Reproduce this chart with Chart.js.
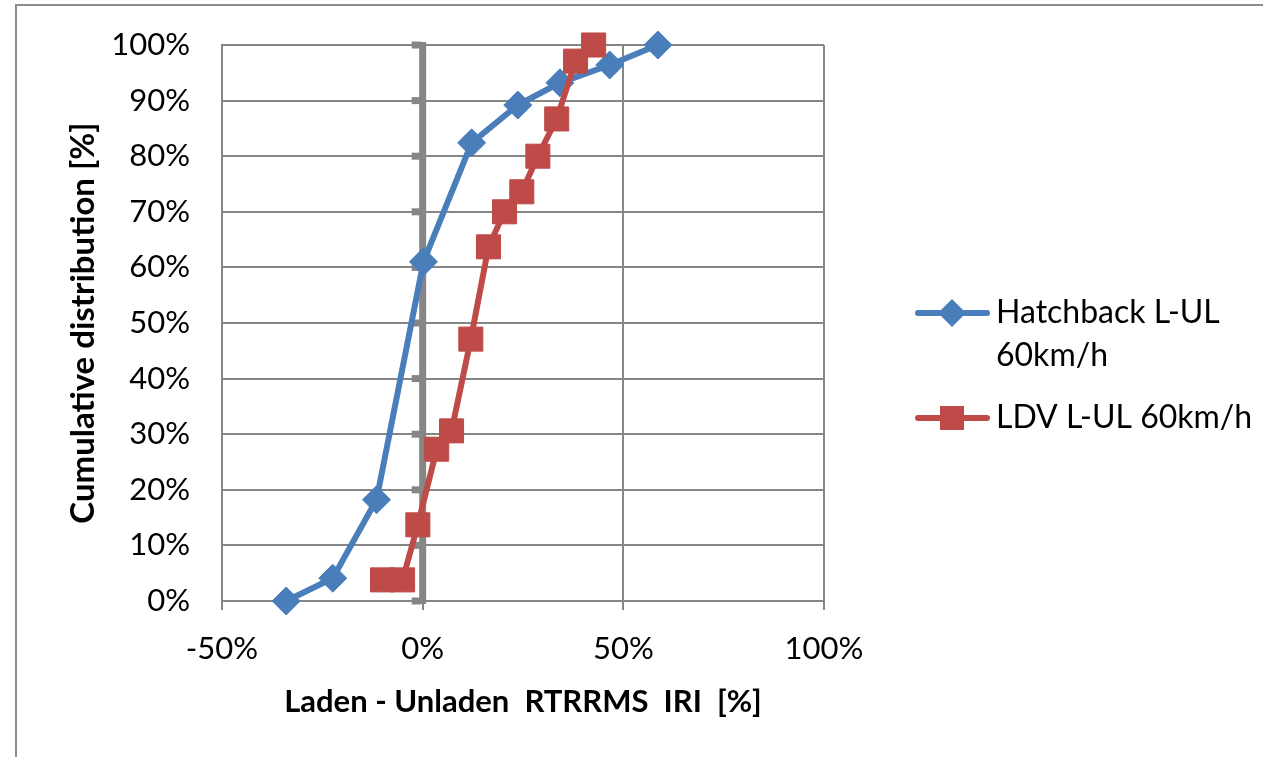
<!DOCTYPE html>
<html>
<head>
<meta charset="utf-8">
<script src="https://cdn.jsdelivr.net/npm/chart.js@4.4.1/dist/chart.umd.min.js"></script>
<style>
html,body{margin:0;padding:0;background:#fff;}
#wrap{width:1263px;height:757px;position:relative;}
</style>
</head>
<body>
<div id="wrap"><canvas id="c" width="1263" height="757"></canvas></div>
<script>
// ---- data ----
const hatchX = [-34, -22.4, -11.5, 0.2, 12.2, 23.7, 34.2, 46.6, 58.6];
const hatchY = [0, 4.1, 18.2, 61, 82.4, 89.2, 93.2, 96.4, 100];
const ldvX = [-10, -5, -1.2, 3.5, 7.2, 12, 16.4, 20.4, 24.7, 28.7, 33.4, 38.1, 42.6];
const ldvY = [3.8, 3.8, 13.7, 27.3, 30.6, 47.1, 63.7, 70, 73.6, 80, 86.7, 97.1, 100];
const hatchLabel = ['Hatchback L-UL', '60km/h'];
const ldvLabel = ['LDV L-UL 60km/h'];
const xTitle = 'Laden - Unladen  RTRRMS  IRI  [%]';
const yTitle = 'Cumulative distribution [%]';
const xTicks = [-50, 0, 50, 100];
const yTicks = [0, 10, 20, 30, 40, 50, 60, 70, 80, 90, 100];

const BLUE = '#4A7EBB';
const RED = '#BE4B48';
const GRID = '#868686';
const FONT = 'Lato';

function pts(xs, ys){ return xs.map((x,i)=>({x:x, y:ys[i]})); }

const decor = {
  id: 'decor',
  beforeDraw(chart){
    const ctx = chart.ctx;
    ctx.save();
    ctx.strokeStyle = '#8c8c8c';
    ctx.lineWidth = 2;
    ctx.strokeRect(16, 5, 1263, 800);
    ctx.restore();
  },
  beforeDatasetsDraw(chart){
    const ctx = chart.ctx;
    const xs = chart.scales.x, ys = chart.scales.y;
    const x0 = xs.getPixelForValue(0);
    ctx.save();
    ctx.fillStyle = GRID;
    const top = ys.getPixelForValue(100), bot = ys.getPixelForValue(0);
    ctx.fillRect(x0 - 3.5, top - 3, 7, bot - top + 6);
    yTicks.forEach(v => {
      const y = ys.getPixelForValue(v);
      ctx.fillRect(x0 - 11, y - 3.5, 9, 7);
    });
    ctx.restore();
  },
  afterDraw(chart){
    const ctx = chart.ctx;
    ctx.save();
    ctx.lineCap = 'round';
    const items = [
      {label: hatchLabel, color: BLUE, shape: 'diamond', y: 313},
      {label: ldvLabel, color: RED, shape: 'square', y: 418}
    ];
    items.forEach(it => {
      ctx.strokeStyle = it.color;
      ctx.lineWidth = 6;
      ctx.beginPath();
      ctx.moveTo(918, it.y); ctx.lineTo(987, it.y);
      ctx.stroke();
      ctx.fillStyle = it.color;
      const cx = 952;
      if (it.shape === 'diamond') {
        ctx.beginPath();
        ctx.moveTo(cx - 14, it.y); ctx.lineTo(cx, it.y - 14);
        ctx.lineTo(cx + 14, it.y); ctx.lineTo(cx, it.y + 14);
        ctx.closePath(); ctx.fill();
      } else {
        ctx.fillRect(cx - 12, it.y - 12, 24, 24);
      }
      ctx.fillStyle = '#000';
      ctx.font = '32px ' + FONT;
      ctx.textBaseline = 'middle';
      ctx.textAlign = 'left';
      it.label.forEach((t, i) => ctx.fillText(t, 996, it.y + i * 43));
    });
    ctx.restore();
  }
};

new Chart(document.getElementById('c'), {
  type: 'line',
  data: {
    datasets: [
      {
        label: hatchLabel.join(' '),
        data: pts(hatchX, hatchY),
        borderColor: BLUE, backgroundColor: BLUE,
        borderWidth: 6, tension: 0, clip: false,
        pointStyle: 'rectRot', pointRadius: 14, pointHoverRadius: 14,
        pointBackgroundColor: BLUE, pointBorderColor: BLUE, pointBorderWidth: 1,
        order: 2
      },
      {
        label: ldvLabel.join(' '),
        data: pts(ldvX, ldvY),
        borderColor: RED, backgroundColor: RED,
        borderWidth: 6, tension: 0, clip: false,
        pointStyle: 'rect', pointRadius: 17, pointHoverRadius: 17,
        pointBackgroundColor: RED, pointBorderColor: RED, pointBorderWidth: 1,
        order: 1
      }
    ]
  },
  options: {
    responsive: false,
    animation: false,
    devicePixelRatio: 1,
    layout: { padding: { top: 45, right: 439, bottom: 0, left: 0 } },
    plugins: { legend: { display: false }, tooltip: { enabled: false } },
    scales: {
      x: {
        type: 'linear', min: -50, max: 100,
        afterFit(s){ s.height = 156; },
        afterBuildTicks(s){ s.ticks = xTicks.map(v => ({value: v})); },
        ticks: { callback: v => v + '%', color: '#000', font: { family: FONT, size: 31 }, padding: 20, maxRotation: 0 },
        grid: { color: GRID, lineWidth: 2, drawTicks: true, tickLength: 9 },
        border: { color: GRID, width: 2 },
        title: { display: true, text: xTitle, color: '#000', font: { family: FONT, size: 31, weight: 'bold' }, padding: { top: 0, bottom: 36 } }
      },
      y: {
        min: 0, max: 100,
        afterFit(s){ s.width = 222; },
        afterBuildTicks(s){ s.ticks = yTicks.map(v => ({value: v})); },
        ticks: { callback: v => v + '%', color: '#000', font: { family: FONT, size: 31 }, padding: 2 },
        grid: { color: GRID, lineWidth: 2, drawTicks: true, tickLength: 30, tickColor: 'rgba(0,0,0,0)' },
        border: { color: GRID, width: 2 },
        title: { display: true, text: yTitle, color: '#000', font: { family: FONT, size: 33, weight: 'bold' }, padding: { top: 64, bottom: 0 } }
      }
    }
  },
  plugins: [decor]
});
</script>
</body>
</html>
